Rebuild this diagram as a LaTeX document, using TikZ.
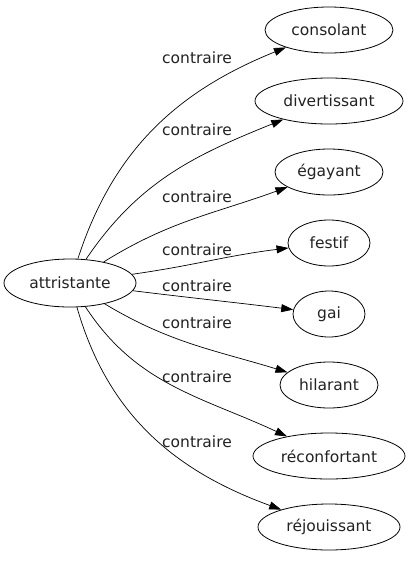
\documentclass[tikz,border=0pt]{standalone}
\usepackage{fontspec}
\setmainfont{DejaVu Sans}
\usetikzlibrary{shapes.geometric,arrows.meta}
\definecolor{inkgray}{HTML}{222222}
\tikzset{
  word/.style={ellipse,draw,line width=0.8pt,inner sep=0pt,minimum height=46pt,
    text=inkgray,font=\fontsize{15.5}{18}\selectfont},
  rel/.style={-{Triangle[length=12pt,width=8pt]},line width=0.7pt},
  rellabel/.style={font=\fontsize{15.5}{18}\selectfont,text=inkgray}
}

\begin{document}
\begin{tikzpicture}[x=1pt,y=1pt]
\useasboundingbox (0,0) rectangle (413,-563);

\node[word,minimum width=132pt,minimum height=48pt] (attristante) at (70,-283) {attristante};

% right column
\foreach \nm/\txt/\nodew/\yy in {consolant/consolant/128/30,
    divertissant/divertissant/148/101, egayant/égayant/108/172,
    festif/festif/82/243, gai/gai/72/314, hilarant/hilarant/98/385,
    reconfortant/réconfortant/152/456, rejouissant/réjouissant/142/527}{
  \node[word,minimum width=\nodew pt] (\nm) at (329,-\yy) {\txt};
}

% edges and their labels
\foreach \nm/\o/\i/\ly in {consolant/72/202/58, divertissant/56/202/130,
    egayant/32/200/197, festif/8/187/250, gai/-7/173/286,
    hilarant/-31/163/323, reconfortant/-57/155/377, rejouissant/-74/160/442}{
  \draw[rel] (attristante) to[out=\o,in=\i] (\nm);
  \node[rellabel] (lbl-\nm) at (197,-\ly) {contraire};
}

\end{tikzpicture}
\end{document}
